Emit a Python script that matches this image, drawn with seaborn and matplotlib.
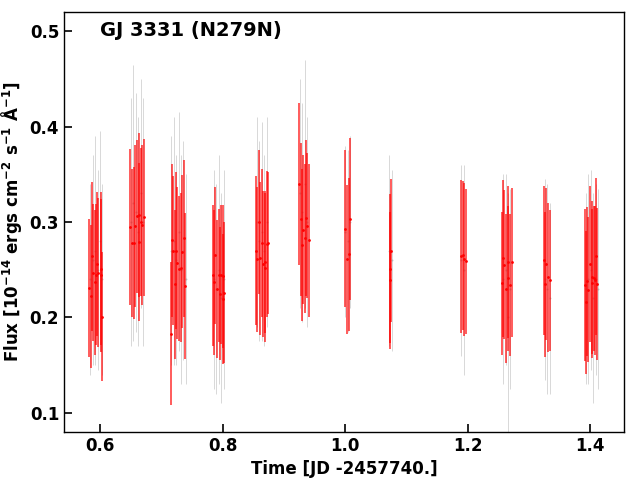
import numpy as np
import pandas as pd
import seaborn as sns
import matplotlib.pyplot as plt

# red points (time, flux, error)
red_time = [0.587, 0.5956, 0.601, 0.589, 0.597, 0.5935, 0.602, 0.592, 0.5825, 0.5853, 0.6038,
            0.6495, 0.6577, 0.661, 0.6632, 0.6664, 0.669, 0.6713, 0.6522, 0.6555, 0.6642,
            0.718, 0.7197, 0.7241, 0.7262, 0.7295, 0.7322, 0.7344, 0.7371, 0.7224, 0.7393, 0.7159,
            0.7883, 0.785, 0.7866, 0.7938, 0.798, 0.8003, 0.7915, 0.7959, 0.8024, 0.8013,
            0.8596, 0.8547, 0.8568, 0.8617, 0.864, 0.8661, 0.87, 0.8689, 0.8722, 0.8748,
            0.9254, 0.9287, 0.932, 0.9368, 0.9385, 0.9303, 0.9352, 0.9407,
            1.0005, 1.0087, 1.0038, 1.0061,
            1.073, 1.0756, 1.074,
            1.1894, 1.1922, 1.1943, 1.197,
            1.2585, 1.2602, 1.2569, 1.2634, 1.2657, 1.2667, 1.2689, 1.2722,
            1.3254, 1.3287, 1.3271, 1.332, 1.3342,
            1.3923, 1.3956, 1.3972, 1.3939, 1.4005, 1.4028, 1.4038, 1.4065, 1.4087, 1.4103, 1.412]
red_flux = [0.264, 0.256, 0.251, 0.247, 0.247, 0.245, 0.244, 0.237, 0.231, 0.222, 0.201,
            0.295, 0.296, 0.306, 0.307, 0.300, 0.297, 0.305, 0.278, 0.278, 0.279,
            0.281, 0.270, 0.270, 0.257, 0.251, 0.252, 0.269, 0.283, 0.235, 0.233, 0.183,
            0.265, 0.244, 0.237, 0.244, 0.245, 0.243, 0.230, 0.225, 0.226, 0.219,
            0.300, 0.270, 0.261, 0.262, 0.278, 0.256, 0.258, 0.252, 0.277, 0.278,
            0.340, 0.303, 0.292, 0.304, 0.296, 0.276, 0.283, 0.281,
            0.293, 0.303, 0.261, 0.266,
            0.251, 0.270, 0.239,
            0.264, 0.265, 0.261, 0.259,
            0.262, 0.255, 0.236, 0.230, 0.258, 0.241, 0.234, 0.258,
            0.260, 0.256, 0.235, 0.242, 0.239,
            0.234, 0.238, 0.229, 0.216, 0.256, 0.236, 0.242, 0.241, 0.239, 0.264, 0.235]
red_err = [0.078, 0.075, 0.080, 0.072, 0.078, 0.074, 0.080, 0.076, 0.072, 0.075, 0.068,
           0.082, 0.085, 0.080, 0.086, 0.078, 0.084, 0.082, 0.078, 0.080, 0.083,
           0.080, 0.078, 0.082, 0.080, 0.076, 0.078, 0.080, 0.082, 0.078, 0.076, 0.075,
           0.072, 0.074, 0.076, 0.070, 0.073, 0.075, 0.072, 0.070, 0.074, 0.068,
           0.075, 0.078, 0.076, 0.080, 0.078, 0.076, 0.074, 0.078, 0.076, 0.074,
           0.085, 0.080, 0.078, 0.082, 0.076, 0.080, 0.078, 0.080,
           0.082, 0.085, 0.078, 0.080,
           0.078, 0.075, 0.072,
           0.080, 0.078, 0.080, 0.076,
           0.082, 0.078, 0.075, 0.078, 0.080, 0.076, 0.074, 0.078,
           0.078, 0.080, 0.076, 0.078, 0.074,
           0.080, 0.078, 0.076, 0.075, 0.082, 0.078, 0.080, 0.076, 0.078, 0.082, 0.080]

# gray points (time, flux, error)
gray_time = [0.584, 0.588, 0.592, 0.596, 0.600, 0.603,
             0.650, 0.654, 0.658, 0.662, 0.666, 0.670,
             0.716, 0.720, 0.724, 0.728, 0.732, 0.736, 0.740,
             0.786, 0.790, 0.794, 0.798, 0.802,
             0.856, 0.860, 0.864, 0.868, 0.872,
             0.926, 0.930, 0.934, 0.938,
             1.000, 1.004, 1.008,
             1.072, 1.076,
             1.190, 1.195,
             1.258, 1.262, 1.266, 1.270,
             1.326, 1.330, 1.334,
             1.393, 1.397, 1.401, 1.405, 1.409, 1.413]
gray_flux = [0.240, 0.260, 0.270, 0.250, 0.280, 0.240,
             0.300, 0.320, 0.310, 0.290, 0.330, 0.300,
             0.270, 0.280, 0.260, 0.290, 0.250, 0.270, 0.240,
             0.240, 0.230, 0.250, 0.220, 0.240,
             0.300, 0.280, 0.290, 0.270, 0.300,
             0.330, 0.310, 0.340, 0.300,
             0.290, 0.280, 0.300,
             0.270, 0.260,
             0.260, 0.250,
             0.240, 0.250, 0.200, 0.230,
             0.240, 0.230, 0.220,
             0.230, 0.240, 0.250, 0.220, 0.240, 0.230]
gray_err = [0.100, 0.110, 0.120, 0.105, 0.115, 0.100,
            0.130, 0.145, 0.125, 0.120, 0.120, 0.130,
            0.120, 0.130, 0.110, 0.125, 0.120, 0.115, 0.110,
            0.115, 0.110, 0.120, 0.110, 0.115,
            0.110, 0.105, 0.115, 0.100, 0.110,
            0.120, 0.115, 0.130, 0.110,
            0.090, 0.095, 0.090,
            0.100, 0.095,
            0.100, 0.110,
            0.110, 0.100, 0.130, 0.105,
            0.105, 0.110, 0.100,
            0.100, 0.110, 0.105, 0.110, 0.100, 0.105]

red = pd.DataFrame({'time': red_time, 'flux': red_flux, 'err': red_err})
gray = pd.DataFrame({'time': gray_time, 'flux': gray_flux, 'err': gray_err})

sns.set_style('white')
plt.rcParams['font.weight'] = 'bold'
plt.rcParams['axes.labelweight'] = 'bold'
plt.rcParams['mathtext.default'] = 'regular'
plt.rcParams['text.color'] = 'black'
plt.rcParams['axes.labelcolor'] = 'black'
plt.rcParams['xtick.color'] = 'black'
plt.rcParams['ytick.color'] = 'black'

fig, ax = plt.subplots(figsize=(6.4, 4.8), dpi=100)

ax.errorbar(gray['time'], gray['flux'], yerr=gray['err'], fmt='none',
            ecolor='gray', elinewidth=0.7, alpha=0.3, zorder=1)
sns.scatterplot(data=gray, x='time', y='flux', color='gray', s=2,
                linewidth=0, alpha=0.4, ax=ax, zorder=2)
ax.errorbar(red['time'], red['flux'], yerr=red['err'], fmt='none',
            ecolor='red', elinewidth=1.2, alpha=0.75, zorder=3)
sns.scatterplot(data=red, x='time', y='flux', color='red', s=4,
                linewidth=0, marker='o', ax=ax, zorder=4)

ax.set_xlim(0.541, 1.4555)
ax.set_ylim(0.08, 0.52)
ax.set_xticks([0.6, 0.8, 1.0, 1.2, 1.4])
ax.set_yticks([0.1, 0.2, 0.3, 0.4, 0.5])
ax.tick_params(direction='in', length=6, width=1.2, labelsize=12,
               left=True, bottom=True)
for lab in ax.get_xticklabels() + ax.get_yticklabels():
    lab.set_fontweight('bold')
for sp in ax.spines.values():
    sp.set_color('black')
    sp.set_linewidth(1.0)

ax.set_xlabel('Time [JD -2457740.]', fontsize=12, fontweight='bold')
ax.set_ylabel(r'Flux [$10^{-14}$ ergs cm$^{-2}$ s$^{-1}$ $\AA^{-1}$]',
              fontsize=12, fontweight='bold')
ax.text(0.064, 0.955, 'GJ 3331 (N279N)', transform=ax.transAxes,
        fontsize=14, fontweight='bold', va='center')

fig.subplots_adjust(left=0.1, right=0.975, top=0.975, bottom=0.1)
fig.savefig('out.png', dpi=100)
